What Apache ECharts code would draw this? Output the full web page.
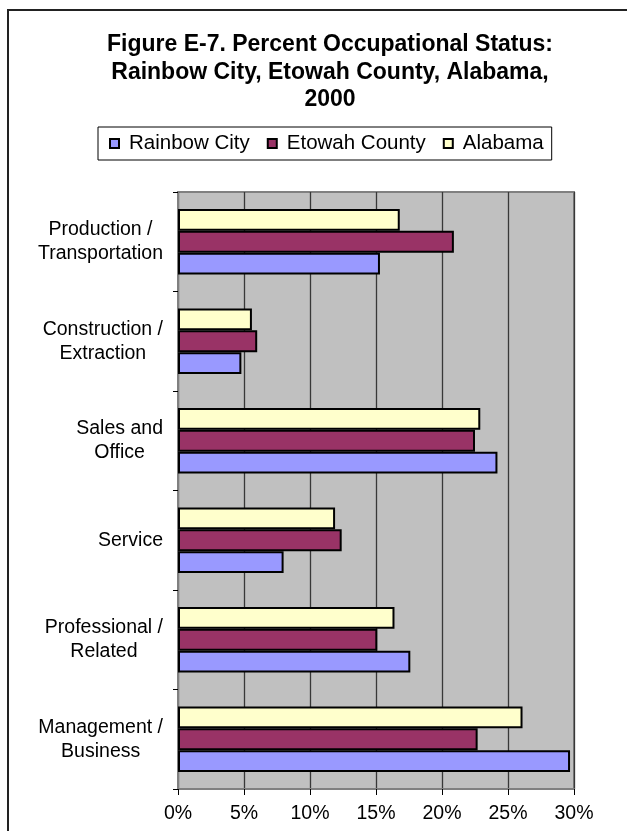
<!DOCTYPE html>
<html>
<head>
<meta charset="utf-8">
<script src="https://cdn.jsdelivr.net/npm/echarts@6/dist/echarts.min.js"></script>
<style>html,body{margin:0;padding:0;background:#fff;}#c{width:627px;height:831px;}</style>
</head>
<body>
<div id="c"></div>
<script>
const categories = ['Management / Business', 'Professional / Related', 'Service', 'Sales and Office', 'Construction / Extraction', 'Production / Transportation'];
const labelLines = [['Management /', 'Business'], ['Professional /', 'Related'], ['Service'], ['Sales and', 'Office'], ['Construction /', 'Extraction'], ['Production /', 'Transportation']];
const rainbowCity = [29.7, 17.6, 8.0, 24.2, 4.8, 15.3];
const etowahCounty = [22.7, 15.1, 12.4, 22.5, 6.0, 20.9];
const alabama = [26.1, 16.4, 11.9, 22.9, 5.6, 16.8];
const xTicks = [0, 5, 10, 15, 20, 25, 30];

const chart = echarts.init(document.getElementById('c'));
const font = 'Arial, "Liberation Sans", sans-serif';
const barStyle = (c) => ({ color: c, borderColor: '#000', borderWidth: 2 });
chart.setOption({
  backgroundColor: '#fff',
  animation: false,
  title: {
    text: 'Figure E-7. Percent Occupational Status:\nRainbow City, Etowah County, Alabama,\n2000',
    left: 325, top: 26, textAlign: 'center',
    textStyle: { fontFamily: font, fontSize: 23, fontWeight: 'bold', color: '#000', lineHeight: 27.5 }
  },
  legend: {
    left: 98, top: 127,
    data: ['Rainbow City', 'Etowah County', 'Alabama'],
    icon: 'rect', itemWidth: 9, itemHeight: 9, itemGap: 17,
    borderColor: '#000', borderWidth: 1, padding: [6, 8, 6, 11],
    formatter: '{t|{name}}',
    textStyle: { fontFamily: font, fontSize: 20.5, color: '#000',
      rich: { t: { fontFamily: font, fontSize: 20.5, color: '#000', padding: [0, 0, 0, 5] } } }
  },
  graphic: [{ type: 'rect', shape: { x: 8, y: 10, width: 700, height: 900 }, style: { fill: 'none', stroke: '#222', lineWidth: 2 }, silent: true }],
  grid: { left: 178, top: 192, right: 53, bottom: 42, show: true, backgroundColor: '#C0C0C0', borderColor: '#808080', borderWidth: 2 },
  xAxis: {
    type: 'value', min: xTicks[0], max: xTicks[xTicks.length - 1], interval: 5,
    axisLine: { show: true, lineStyle: { color: '#808080', width: 2 } },
    axisTick: { show: true, length: 6, lineStyle: { color: '#000' } },
    splitLine: { show: true, lineStyle: { color: '#383838', width: 1.3 } },
    axisLabel: { formatter: '{value}%', fontFamily: font, fontSize: 19.5, color: '#000', margin: 15 }
  },
  yAxis: {
    type: 'category', data: categories,
    axisLine: { show: true, lineStyle: { color: '#808080', width: 2 } },
    axisTick: { show: true, length: 5, lineStyle: { color: '#000' } },
    axisLabel: {
      fontFamily: font, fontSize: 19.5, color: '#000', margin: 15, align: 'right', lineHeight: 24,
      formatter: (v, i) => labelLines[i].map(l => '{c|' + l + '}').join('\n'),
      rich: { c: { align: 'center', fontFamily: font, fontSize: 19.5, color: '#000', lineHeight: 24 } }
    }
  },
  series: [
    { name: 'Alabama', type: 'bar', data: alabama, itemStyle: barStyle('#FFFFCC'), barGap: '0%', barCategoryGap: '34%' },
    { name: 'Etowah County', type: 'bar', data: etowahCounty, itemStyle: barStyle('#993366'), barGap: '0%', barCategoryGap: '34%' },
    { name: 'Rainbow City', type: 'bar', data: rainbowCity, itemStyle: barStyle('#9999FF'), barGap: '0%', barCategoryGap: '34%' }
  ]
});
</script>
</body>
</html>
